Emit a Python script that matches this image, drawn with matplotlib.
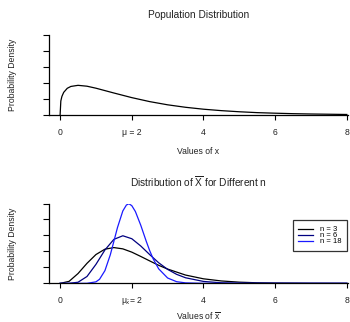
import matplotlib
matplotlib.use("Agg")
import matplotlib.pyplot as plt

plt.rcParams['font.family'] = ['Liberation Sans', 'DejaVu Sans']
plt.rcParams['mathtext.fontset'] = 'custom'
plt.rcParams['mathtext.rm'] = 'Liberation Sans'
plt.rcParams['mathtext.it'] = 'Liberation Sans'
plt.rcParams['mathtext.bf'] = 'Liberation Sans'

# population density
pop_x = [0, 0.02, 0.05, 0.1, 0.2, 0.3, 0.5, 0.75, 1.0, 1.25, 1.5, 2.0, 2.5, 3.0,
         3.5, 4.0, 4.5, 5.0, 5.5, 6.0, 6.5, 7.0, 7.5, 8.0]
pop_y = [0, 0.175, 0.232, 0.283, 0.334, 0.357, 0.371, 0.360, 0.335, 0.305, 0.275,
         0.217, 0.167, 0.127, 0.096, 0.072, 0.054, 0.040, 0.029, 0.022, 0.016,
         0.012, 0.009, 0.006]

# sampling distributions of the mean (bottom panel)
n3_x = [0, 0.25, 0.5, 0.75, 1.0, 1.25, 1.5, 1.75, 2.0, 2.25, 2.5, 2.75, 3.0, 3.5,
        4.0, 4.5, 5.0, 5.5, 6.0, 7.0, 8.0]
n3_y = [0, 0.025, 0.123, 0.251, 0.361, 0.428, 0.448, 0.432, 0.391, 0.337, 0.281,
        0.226, 0.179, 0.104, 0.057, 0.030, 0.015, 0.007, 0.004, 0.001, 0.0]

n6_x = [0, 0.25, 0.5, 0.75, 1.0, 1.25, 1.5, 1.75, 2.0, 2.25, 2.5, 2.75, 3.0, 3.25,
        3.5, 4.0, 4.5, 5.0, 6.0, 8.0]
n6_y = [0, 0.0003, 0.014, 0.086, 0.238, 0.418, 0.551, 0.596, 0.559, 0.468, 0.360,
        0.258, 0.175, 0.113, 0.070, 0.024, 0.007, 0.002, 0.0001, 0.0]

n18_x = [0, 0.5, 0.75, 1.0, 1.1, 1.25, 1.4, 1.5, 1.6, 1.75, 1.85, 1.92, 2.0, 2.1,
         2.25, 2.4, 2.5, 2.6, 2.75, 3.0, 3.25, 3.5, 4.0, 8.0]
n18_y = [0, 0.0, 0.0005, 0.019, 0.051, 0.159, 0.357, 0.526, 0.698, 0.907, 0.981,
         0.997, 0.973, 0.900, 0.728, 0.531, 0.409, 0.304, 0.182, 0.067, 0.021,
         0.006, 0.0003, 0.0]

yticks = [0, 0.2, 0.4, 0.6, 0.8, 1.0]
xticks = [0, 2, 4, 6, 8]
top_labels = ['0', '\u03bc = 2', '4', '6', '8']
bot_labels = ['0', r'$\mu_{\bar{x}}$= 2', '4', '6', '8']

fs = 6.25
txt = '#222222'


def style_axes(ax, labels, xlabel, xlab_y, title):
    ax.set_xlim(-0.31, 8.02)
    ax.set_ylim(0, 1.0)
    for s in ['top', 'right']:
        ax.spines[s].set_visible(False)
    for s in ['left', 'bottom']:
        ax.spines[s].set_linewidth(0.9)
    ax.set_yticks(yticks)
    ax.set_yticklabels([])
    ax.set_xticks(xticks)
    ax.set_xticklabels(labels, fontsize=fs, color=txt)
    for t in ax.get_xticklabels():
        t.set_va('baseline')
    ax.tick_params(axis='y', length=4.3, width=0.8)
    ax.tick_params(axis='x', length=3.6, width=0.8, pad=10.8)
    ax.set_xlabel(xlabel, fontsize=fs, color=txt)
    ax.xaxis.set_label_coords(0.5, xlab_y)
    ax.set_ylabel('Probability Density', fontsize=fs, color=txt)
    ax.yaxis.set_label_coords(-0.108, 0.5)
    ax.set_title(title, fontsize=7.3, pad=12, color=txt)


fig = plt.figure(figsize=(3.5, 3.22), dpi=100)
ax1 = fig.add_axes([0.14, 0.643, 0.853, 0.248])
ax2 = fig.add_axes([0.14, 0.120, 0.853, 0.248])

ax1.plot(pop_x, pop_y, color='black', lw=0.9)
style_axes(ax1, top_labels, 'Values of x', -0.40, 'Population Distribution')

ax2.plot(n3_x, n3_y, color='black', lw=0.9, label='n = 3')
ax2.plot(n6_x, n6_y, color='#000080', lw=0.9, label='n = 6')
ax2.plot(n18_x, n18_y, color='#1a1aff', lw=0.9, label='n = 18')
style_axes(ax2, bot_labels, r'Values of $\overline{\mathrm{x}}$', -0.335,
           r'Distribution of $\overline{\mathrm{X}}$ for Different n')

leg = ax2.legend(loc='upper right', bbox_to_anchor=(0.9987, 0.791), fontsize=5.5,
                 frameon=True, fancybox=False, handlelength=1.96,
                 handletextpad=0.85, labelspacing=-0.18, borderpad=0.75,
                 borderaxespad=0)
leg.get_frame().set_edgecolor('black')
leg.get_frame().set_linewidth(0.9)

fig.savefig('out.png', dpi=100)
